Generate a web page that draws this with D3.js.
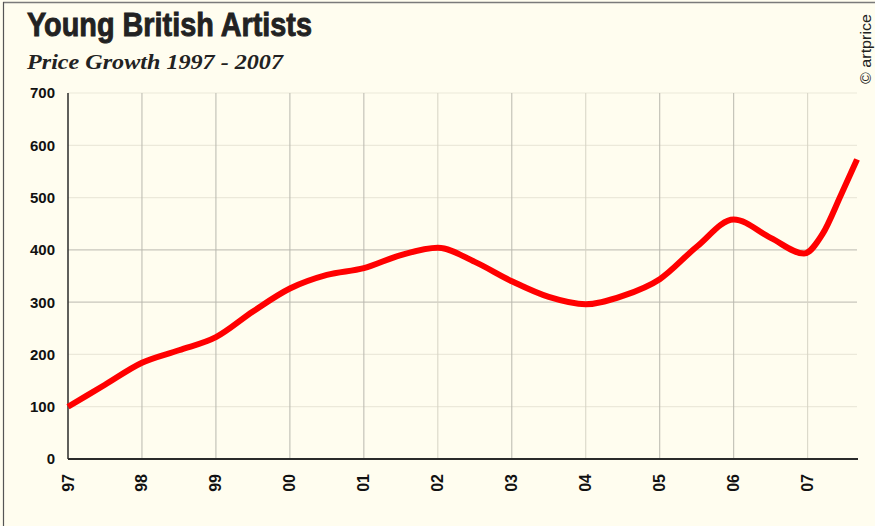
<!DOCTYPE html>
<html>
<head>
<meta charset="utf-8">
<script src="https://cdn.jsdelivr.net/npm/d3@7"></script>
<style>
  html, body { margin: 0; padding: 0; background: #fffdef; }
  svg { display: block; }
</style>
</head>
<body>
<svg id="chart" width="875" height="526"></svg>
<script>
// ---- data ----
const title = "Young British Artists";
const subtitle = "Price Growth 1997 - 2007";
const credit = "© artprice";
const yearTicks = [1997, 1998, 1999, 2000, 2001, 2002, 2003, 2004, 2005, 2006, 2007];
const yearLabels = ["97", "98", "99", "00", "01", "02", "03", "04", "05", "06", "07"];
const valueTicks = [0, 100, 200, 300, 400, 500, 600, 700];
const dates = [1997.0, 1997.5, 1998.0, 1998.5, 1999.0, 1999.5, 2000.0, 2000.5, 2001.0, 2001.5,
               2002.0, 2002.5, 2003.0, 2003.5, 2004.0, 2004.5, 2005.0, 2005.5, 2006.0, 2006.5,
               2006.95, 2007.2, 2007.45, 2007.667];
const prices = [100, 142, 184, 208, 233, 282, 326, 352, 365, 390,
                404, 377, 340, 310, 296, 312, 344, 406, 458, 423,
                393, 430, 505, 573];
const grayGridValues = [300, 400];
const lightGridYears = [2002, 2004, 2007];

// ---- layout ----
const svg = d3.select("#chart");
const pLeft = 68, pRight = 857, pTop = 93, pBottom = 459;

svg.append("rect").attr("width", 875).attr("height", 526).attr("fill", "#fffdef");
// frame (top & left)
svg.append("line").attr("x1", 3).attr("x2", 875).attr("y1", 2.5).attr("y2", 2.5)
  .attr("stroke", "#7a7a7a").attr("stroke-width", 1.5);
svg.append("line").attr("x1", 3.5).attr("x2", 3.5).attr("y1", 2).attr("y2", 526)
  .attr("stroke", "#555").attr("stroke-width", 1.2);

const x = d3.scaleLinear().domain([1997, d3.max(dates)]).range([pLeft, pRight]);
const y = d3.scaleLinear().domain([0, 700]).range([pBottom, pTop]);

// horizontal grid
svg.append("g").selectAll("line").data(valueTicks.filter(v => v > 0)).join("line")
  .attr("x1", pLeft).attr("x2", pRight)
  .attr("y1", d => y(d)).attr("y2", d => y(d))
  .attr("stroke", d => grayGridValues.includes(d) ? "#c8c6bc" : "#ece9da")
  .attr("stroke-width", 1.2);

// vertical grid
svg.append("g").selectAll("line").data(yearTicks.slice(1)).join("line")
  .attr("x1", d => x(d)).attr("x2", d => x(d))
  .attr("y1", pTop).attr("y2", pBottom)
  .attr("stroke", d => lightGridYears.includes(d) ? "#d6d3c4" : "#b9b8ae")
  .attr("stroke-width", 1);

// axes lines
svg.append("line").attr("x1", pLeft).attr("x2", pRight + 1).attr("y1", pBottom).attr("y2", pBottom)
  .attr("stroke", "#2a2a2a").attr("stroke-width", 2);
svg.append("line").attr("x1", pLeft).attr("x2", pLeft).attr("y1", pTop).attr("y2", pBottom)
  .attr("stroke", "#2a2a2a").attr("stroke-width", 1.5);

// y labels
svg.append("g").selectAll("text").data(valueTicks).join("text")
  .attr("x", 55).attr("y", d => y(d)).attr("dy", "0.36em")
  .attr("text-anchor", "end")
  .attr("font-family", "Liberation Sans, Arial, sans-serif")
  .attr("font-weight", "bold").attr("font-size", 15).attr("fill", "#111")
  .text(d => d);

// x labels (rotated)
svg.append("g").selectAll("text").data(yearTicks).join("text")
  .attr("transform", d => `translate(${x(d) + 5.5},474) rotate(-90)`)
  .attr("text-anchor", "end")
  .attr("font-family", "Liberation Sans, Arial, sans-serif")
  .attr("font-weight", "bold").attr("font-size", 16).attr("fill", "#111")
  .text((d, i) => yearLabels[i]);

// line
const line = d3.line()
  .x((d, i) => x(dates[i]))
  .y(d => y(d))
  .curve(d3.curveMonotoneX);
svg.append("path").datum(prices)
  .attr("d", line)
  .attr("fill", "none").attr("stroke", "#ff0000")
  .attr("stroke-width", 6).attr("stroke-linejoin", "round");

// titles
svg.append("text").attr("x", 27).attr("y", 36)
  .attr("font-family", "Liberation Sans Narrow, Liberation Sans, Arial, sans-serif")
  .attr("font-weight", "bold").attr("font-size", 33).attr("fill", "#222")
  .attr("stroke", "#222").attr("stroke-width", 0.9)
  .attr("textLength", 285).attr("lengthAdjust", "spacingAndGlyphs")
  .text(title);
svg.append("text").attr("x", 27).attr("y", 69)
  .attr("font-family", "Liberation Serif, DejaVu Serif, serif")
  .attr("font-style", "italic").attr("font-weight", "bold").attr("font-size", 20).attr("fill", "#222")
  .attr("textLength", 256).attr("lengthAdjust", "spacingAndGlyphs")
  .text(subtitle);

// credit
svg.append("text")
  .attr("transform", "translate(871,84) rotate(-90)")
  .attr("font-family", "Liberation Sans, Arial, sans-serif")
  .attr("font-size", 15).attr("fill", "#222")
  .attr("textLength", 70).attr("lengthAdjust", "spacingAndGlyphs")
  .text(credit);
</script>
</body>
</html>
